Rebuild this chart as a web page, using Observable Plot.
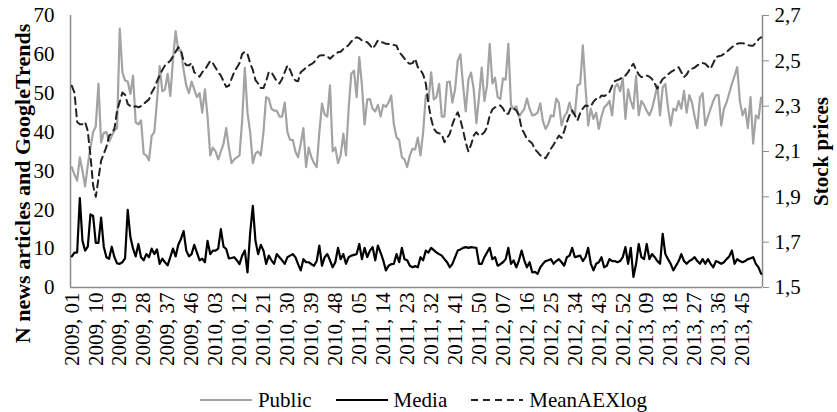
<!DOCTYPE html>
<html>
<head>
<meta charset="utf-8">
<script src="https://cdn.jsdelivr.net/npm/d3@7"></script>
<script src="https://cdn.jsdelivr.net/npm/@observablehq/plot@0.6"></script>
<style>
  html, body { margin: 0; padding: 0; background: #fff; }
  #chart { width: 837px; }
  .legend { display: flex; justify-content: center; align-items: center; height: 32px; margin-top: 4px; padding-left: 10px; font-family: "Liberation Serif", "Times New Roman", serif; font-size: 21px; color: #000; }
  .legend .item { display: flex; align-items: center; margin: 0 12px; }
  .legend svg { margin-right: 6px; }
</style>
</head>
<body>
<div id="chart"></div>
<script>
// Week categories 2009,01 ... 2013,52
const years = [2009, 2010, 2011, 2012, 2013];
const weeksPerYear = 52;
const weeks = [];
for (const yr of years) for (let w = 1; w <= weeksPerYear; w++) weeks.push(`${yr}, ${String(w).padStart(2, "0")}`);

// Tick labels shown on the x axis (every 9th week)
const tickLabels = ["2009, 01","2009, 10","2009, 19","2009, 28","2009, 37","2009, 46",
  "2010, 03","2010, 12","2010, 21","2010, 30","2010, 39","2010, 48",
  "2011, 05","2011, 14","2011, 23","2011, 32","2011, 41","2011, 50",
  "2012, 07","2012, 16","2012, 25","2012, 34","2012, 43","2012, 52",
  "2013, 09","2013, 18","2013, 27","2013, 36","2013, 45"];

const leftTicks = [0, 10, 20, 30, 40, 50, 60, 70];
const rightTicks = [1.5, 1.7, 1.9, 2.1, 2.3, 2.5, 2.7];

// Public (GoogleTrends), left axis
const publicValues = [
  31, 29, 27.5, 33.5, 30, 26, 31.5, 36, 40, 41.5,
  52.4, 37.3, 39.8, 40, 37.6, 39, 40.4, 41, 66.6, 55.4,
  53.3, 53, 49.8, 54.5, 42.5, 42, 43, 34.4, 34, 32.7,
  39, 40, 48, 57, 50.5, 51, 55, 49.3, 58.6, 66,
  61, 61, 56, 52, 50, 53, 51, 49, 50, 45,
  51, 44, 34, 36, 35, 33, 35, 37, 41, 36,
  32, 33, 33.5, 34, 43, 56.5, 45, 40, 32, 34.5,
  35, 34, 40, 49,
  48.6, 46, 45.5, 45.5, 44, 44, 47.6, 40, 38, 38,
  35, 33.5, 37, 41, 31, 36, 33.5, 32, 31, 40,
  47.3, 44.5, 44, 52, 35, 36, 32, 34, 39.6, 34,
  46, 55, 55.8, 49, 59.3, 52, 42, 48.4, 48.5, 46,
  45.3, 47, 44, 47, 46.5, 47.6, 49.4, 42, 38.6, 38,
  33.5, 33, 31, 34, 35.7, 35.5, 38.6, 34, 40, 49.4,
  48, 55.4, 48.4, 49, 52.4, 44, 44, 52.8, 53, 47.6,
  51, 58.4, 60, 52, 45.3, 53.5, 55.3, 51, 42.3, 49,
  56.6, 48, 52, 62.7, 52.5, 54, 49, 48.5, 53.8, 53.5,
  62.7, 47, 46, 46.6,
  44, 45, 46, 48.6, 46, 44.3, 44.5, 45, 47.4, 42.8,
  40.8, 42, 44.3, 44, 48.6, 47.5, 41.7, 44, 45, 47.6,
  45, 44.5, 52, 52.4, 62.3, 51.5, 41.7, 46, 43.4, 45,
  40.8, 44, 46.3, 47, 48, 44.3, 51.5, 52.4, 50.5, 53.8,
  43.4, 51, 48, 46, 54.5, 44.3, 48, 47, 45.5, 44.3,
  46, 48.9, 52, 44.3, 51.5, 52.4, 46.3, 41.7, 46, 45.5,
  48, 46, 50.6, 45, 49.5, 47.6, 44, 41, 48.9, 50,
  41.7, 44, 46, 48, 49.5, 49.5, 41.7, 46, 47.6, 50,
  52.4, 54.5, 56.7, 48, 44.3, 46, 41, 49, 37, 44.3,
  43.5, 48.9
];

// Media (news articles), left axis
const mediaValues = [
  8, 9, 9, 23, 12, 9.5, 10.5, 18.8, 18.4, 11.5,
  11.5, 18, 10.5, 7.8, 7.4, 10.5, 7.8, 6.2, 6.1, 6.5,
  7.5, 20, 13, 10, 8, 11.2, 7.8, 7, 8.6, 7.8,
  10, 8.6, 9.8, 6.1, 7.4, 6.5, 5.7, 7.8, 10, 8,
  11, 12.5, 14.5, 9.5, 8, 8.6, 11, 9, 7, 7.4,
  6.5, 12, 8.6, 9.5, 9.5, 10, 15, 10.5, 9.9, 7.5,
  7.6, 7.8, 7, 6, 8.2, 9.5, 3.9, 14, 21, 12,
  8.6, 11, 9.5, 6.1, 8.2, 7, 6.1, 8.6, 7.8,
  7, 6.1, 7.8, 8.2, 8.6, 7.8, 6, 4.4, 7.3, 6.5,
  6.5, 6, 5.6, 6.8, 10.8, 5.6, 7.8, 8.6, 7, 5.2,
  6.5, 10.2, 7.3, 8.6, 6.1, 7.8, 8.2, 8.4, 8.6, 11.2,
  7.3, 10.2, 7.8, 9.5, 10.4, 7, 10.8, 9, 7, 4.4,
  5.6, 6, 6.1, 8.6, 6.5, 10.2, 7.3, 7, 5.6, 5.2,
  5.5, 5.2, 7.8, 7, 9.5, 9, 10.2, 9.6, 9, 8.6,
  8.2, 7.3, 6.5, 5.2, 6.1, 7.8, 9.5, 9.8, 10.2, 10.4,
  10.2, 10.4, 10.3, 10.2, 6.1, 6.1, 7.8, 9, 10.2, 7.3,
  7.8, 5.6, 6, 6.5, 7.3, 10.2, 6.1, 7, 5.2,
  7, 9.5, 7, 5.2, 6.5, 3.9, 4, 3.5, 5.2,
  6.1, 6.8, 7, 7.3, 6.1, 6.8, 7.3, 6.5, 5.6, 7.8,
  8.2, 10.2, 7.8, 8, 8.2, 6.8, 7.8, 10.2, 6.1, 4.4,
  6.1, 6.5, 7.8, 5.2, 5.6, 7.3, 6.8, 6.8, 6.5, 6.8,
  7.8, 10.4, 6.1, 10.2, 2.7, 6.1, 11.2, 7.8, 7.3, 11.2,
  7.3, 8.6, 7.8, 6.8, 6.1, 13.8, 8.6, 7.3, 6.1, 4.4,
  5.6, 6.8, 8.6, 6.8, 6.1, 6.8, 7.2, 7.8, 6.8, 6.1,
  7.3, 6.1, 7.3, 6.1, 5.2, 6.8, 6.5, 6.1, 6.5, 7.3,
  8, 9.5, 6.1, 7.3, 6.8, 6.5, 6.8, 7.3, 7.5, 7.8,
  6.1, 5.2, 3.5
];

// MeanAEXlog (stock prices), right axis
const aexValues = [
  2.39, 2.36, 2.23, 2.22, 2.22, 2.23, 2.19, 2.08, 1.95, 1.9,
  1.98, 2.06, 2.09, 2.12, 2.17, 2.18, 2.2, 2.28, 2.32, 2.36,
  2.35, 2.31, 2.30, 2.295, 2.3, 2.295, 2.3, 2.31, 2.32, 2.33,
  2.36, 2.38, 2.41, 2.435, 2.46, 2.48, 2.49, 2.50, 2.52, 2.54,
  2.56, 2.545, 2.5, 2.48, 2.48, 2.49, 2.45, 2.44, 2.43, 2.45,
  2.46, 2.48, 2.50, 2.49, 2.47, 2.45, 2.435, 2.41, 2.385, 2.39,
  2.42, 2.45, 2.47, 2.49, 2.53, 2.54, 2.53, 2.49, 2.46, 2.415,
  2.40, 2.38, 2.38, 2.41, 2.45, 2.45, 2.43, 2.41, 2.40,
  2.42, 2.45, 2.479, 2.46, 2.43, 2.413, 2.41, 2.45, 2.46, 2.47,
  2.479, 2.485, 2.494, 2.51, 2.523, 2.525, 2.525, 2.52, 2.509, 2.52,
  2.53, 2.538, 2.54, 2.552, 2.56, 2.57, 2.585, 2.597, 2.604, 2.6,
  2.59, 2.585, 2.582, 2.57, 2.553, 2.57, 2.59, 2.585, 2.58, 2.575,
  2.574, 2.574, 2.57, 2.567, 2.538, 2.525, 2.51, 2.494, 2.487, 2.49,
  2.509, 2.472, 2.46, 2.44, 2.4, 2.31, 2.244, 2.2, 2.185, 2.18,
  2.176, 2.141, 2.16, 2.178, 2.22, 2.251, 2.273, 2.24, 2.193, 2.14,
  2.1, 2.13, 2.17, 2.185, 2.17, 2.175, 2.185, 2.207, 2.259, 2.285,
  2.295, 2.3, 2.303, 2.29, 2.266, 2.266, 2.295, 2.29, 2.281,
  2.26, 2.2, 2.18, 2.155, 2.145, 2.135, 2.11, 2.097,
  2.083, 2.08, 2.07, 2.09, 2.112, 2.13, 2.15, 2.17, 2.16, 2.19,
  2.23, 2.26, 2.281, 2.26, 2.237, 2.27, 2.29, 2.303, 2.3, 2.3,
  2.32, 2.332, 2.33, 2.347, 2.345, 2.35, 2.362, 2.39, 2.41, 2.415,
  2.42, 2.43, 2.435, 2.45, 2.472, 2.487, 2.46, 2.44, 2.428, 2.43,
  2.435, 2.43, 2.42, 2.4, 2.377, 2.4, 2.42, 2.428, 2.44, 2.45,
  2.457, 2.465, 2.472, 2.45, 2.428, 2.44, 2.46, 2.465, 2.47, 2.48,
  2.487, 2.49, 2.487, 2.475, 2.465, 2.49, 2.516, 2.52, 2.523, 2.53,
  2.538, 2.55, 2.56, 2.57, 2.575, 2.578, 2.578, 2.575, 2.57, 2.567,
  2.567, 2.58, 2.595, 2.604
];

// Map the right-axis range [1.5, 2.7] onto the left y domain [0, 70]
const rMin = 1.5, rMax = 2.7, lMax = 70;
const toLeft = v => (v - rMin) / (rMax - rMin) * lMax;

const n = weeks.length;
const rows = d3.range(n).map(i => ({
  i, week: weeks[i],
  pub: publicValues[i], media: mediaValues[i], aex: aexValues[i]
}));
const tickIndex = tickLabels.map(l => weeks.indexOf(l));

const FONT = "'Liberation Serif', 'Times New Roman', serif";
const GRAY = "#a3a3a3";
const AXIS = "#8c8c8c";
const FS = 21;

const chart = Plot.plot({
  width: 837,
  height: 380,
  marginLeft: 70,
  marginRight: 75,
  marginTop: 15,
  marginBottom: 93,
  style: { fontFamily: FONT, fontSize: FS + "px", color: "#000", background: "#fff", overflow: "visible" },
  x: { domain: [-0.5, n - 0.5] },
  y: { domain: [0, lMax] },
  marks: [
    Plot.axisY({ ticks: leftTicks, tickSize: 0, tickPadding: 16, label: null, fontSize: FS }),
    Plot.axisY({ anchor: "right", ticks: rightTicks.map(toLeft), tickFormat: d => (rMin + d / lMax * (rMax - rMin)).toFixed(1).replace(".", ","),
      tickSize: 6, tickPadding: 6, stroke: AXIS, label: null, fontSize: FS }),
    Plot.axisX({ ticks: tickIndex, tickFormat: i => weeks[i], tickRotate: -90, tickSize: 0, tickPadding: 5, label: null, fontSize: FS }),
    Plot.ruleX([-0.5, n - 0.5], { stroke: AXIS, strokeWidth: 1.5 }),
    Plot.ruleY([0], { stroke: AXIS, strokeWidth: 1.5 }),
    Plot.line(rows, { x: "i", y: "pub", stroke: GRAY, strokeWidth: 2.2 }),
    Plot.line(rows, { x: "i", y: "media", stroke: "#000", strokeWidth: 2.2 }),
    Plot.line(rows, { x: "i", y: d => toLeft(d.aex), stroke: "#222", strokeWidth: 2, strokeDasharray: "7,5" }),
    Plot.text(["N news articles and GoogleTrends"], { frameAnchor: "left", textAnchor: "middle", rotate: -90, dx: -48, dy: 32, fontWeight: "bold", fontSize: 22, fill: "#000" }),
    Plot.text(["Stock prices"], { frameAnchor: "right", textAnchor: "middle", rotate: -90, dx: 59, dy: 0, fontWeight: "bold", fontSize: FS, fill: "#000" })
  ]
});

document.getElementById("chart").appendChild(chart);

// Legend
const legendItems = [
  { label: "Public", stroke: GRAY, dash: null },
  { label: "Media", stroke: "#000", dash: null },
  { label: "MeanAEXlog", stroke: "#222", dash: "7,5" }
];
const legend = d3.select("body").append("div").attr("class", "legend");
for (const it of legendItems) {
  const item = legend.append("div").attr("class", "item");
  const s = item.append("svg").attr("width", 52).attr("height", 10);
  s.append("line").attr("x1", 0).attr("x2", 52).attr("y1", 5).attr("y2", 5)
    .attr("stroke", it.stroke).attr("stroke-width", 2.2).attr("stroke-dasharray", it.dash);
  item.append("span").text(it.label);
}
</script>
</body>
</html>
